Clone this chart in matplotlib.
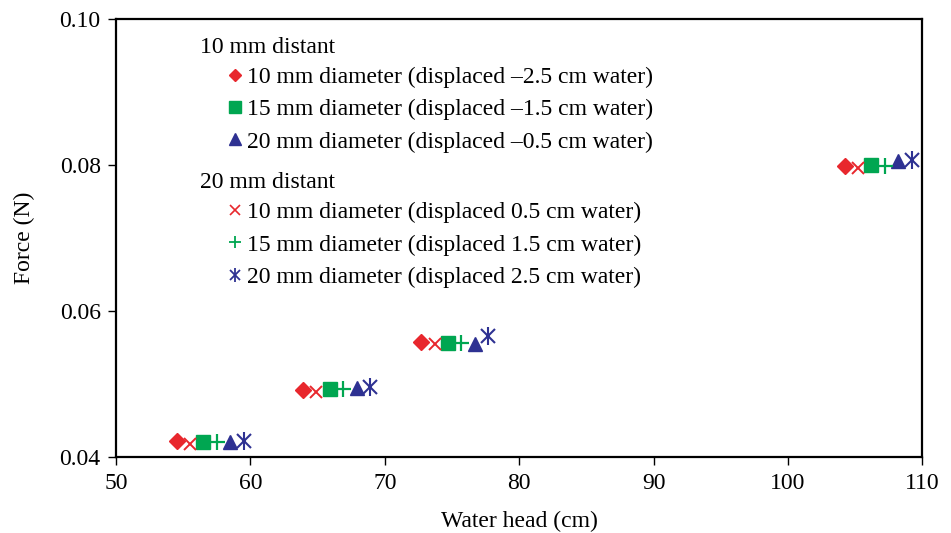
import matplotlib.pyplot as plt
from matplotlib.lines import Line2D

plt.rcParams['font.family'] = ['Liberation Serif', 'DejaVu Serif']

# water head (cm) and force (N) for each series, four groups each
x_d10 = [54.5, 63.9, 72.7, 104.2]
y_d10 = [0.0421, 0.0492, 0.0557, 0.0798]
x_d15 = [56.5, 65.9, 74.7, 106.2]
y_d15 = [0.0420, 0.0493, 0.0556, 0.0800]
x_d20 = [58.5, 67.9, 76.7, 108.2]
y_d20 = [0.0420, 0.0494, 0.0555, 0.0805]

x_f10 = [55.5, 64.9, 73.7, 105.2]
y_f10 = [0.0418, 0.0489, 0.0555, 0.0795]
x_f15 = [57.5, 66.9, 75.7, 107.2]
y_f15 = [0.0420, 0.0493, 0.0556, 0.0798]
x_f20 = [59.5, 68.9, 77.7, 109.2]
y_f20 = [0.0421, 0.0495, 0.0565, 0.0806]

labels_near = ["10 mm diameter (displaced \u20132.5 cm water)",
               "15 mm diameter (displaced \u20131.5 cm water)",
               "20 mm diameter (displaced \u20130.5 cm water)"]
labels_far = ["10 mm diameter (displaced 0.5 cm water)",
              "15 mm diameter (displaced 1.5 cm water)",
              "20 mm diameter (displaced 2.5 cm water)"]

RED = "#e8272d"
GREEN = "#00a651"
BLUE = "#2e3192"
FS = 17

fig = plt.figure(figsize=(9.51, 5.33), dpi=100)
ax = fig.add_axes([0.122, 0.143, 0.848, 0.822])

ax.plot(x_d10, y_d10, ls="none", marker="D", ms=8, color=RED)
ax.plot(x_d15, y_d15, ls="none", marker="s", ms=10.5, color=GREEN)
ax.plot(x_d20, y_d20, ls="none", marker="^", ms=10.5, color=BLUE)
ax.plot(x_f10, y_f10, ls="none", marker="x", ms=8, mew=1.4, color=RED)
ax.plot(x_f15, y_f15, ls="none", marker="+", ms=12, mew=1.6, color=GREEN)
ax.plot(x_f20, y_f20, ls="none", marker="x", ms=10, mew=1.5, color=BLUE)
ax.plot(x_f20, y_f20, ls="none", marker="|", ms=13, mew=1.5, color=BLUE)

# legend handles drawn smaller, like the reference key
k1 = Line2D([], [], ls="none", marker="D", ms=6.5, color=RED)
k2 = Line2D([], [], ls="none", marker="s", ms=8.5, color=GREEN)
k3 = Line2D([], [], ls="none", marker="^", ms=8.5, color=BLUE)
k4 = Line2D([], [], ls="none", marker="x", ms=7, mew=1.2, color=RED)
k5 = Line2D([], [], ls="none", marker="+", ms=9, mew=1.3, color=GREEN)
k6 = (Line2D([], [], ls="none", marker="x", ms=7.5, mew=1.3, color=BLUE),
      Line2D([], [], ls="none", marker="|", ms=10, mew=1.3, color=BLUE))

leg_kw = dict(frameon=False, fontsize=FS, handlelength=0.9, handletextpad=0.05,
              labelspacing=0.46, borderpad=0, alignment="left",
              title_fontsize=FS, loc="upper left")
leg1 = ax.legend([k1, k2, k3], labels_near, title="10 mm distant",
                 bbox_to_anchor=(0.12, 0.985), **leg_kw)
ax.add_artist(leg1)
ax.legend([k4, k5, k6], labels_far, title="20 mm distant",
          bbox_to_anchor=(0.12, 0.676), **leg_kw)
for lg in ax.get_legend(), leg1:
    lg._legend_box.sep = 6
    lg.get_title().set_position((-25, 0))

ax.set_xlim(50, 110)
ax.set_ylim(0.04, 0.10)
ax.set_xticks([50, 60, 70, 80, 90, 100, 110])
ax.set_yticks([0.04, 0.06, 0.08, 0.10])
ax.set_yticklabels(["0.04", "0.06", "0.08", "0.10"])
ax.tick_params(direction="out", length=6, width=1.0, labelsize=FS,
               top=False, right=False)
ax.tick_params(axis="x", pad=6)
ax.tick_params(axis="y", pad=5)
for s in ax.spines.values():
    s.set_linewidth(1.6)

ax.set_xlabel("Water head (cm)", fontsize=FS, labelpad=12)
ax.set_ylabel("Force (N)", fontsize=FS, labelpad=18)

fig.savefig("out.png", dpi=100)
